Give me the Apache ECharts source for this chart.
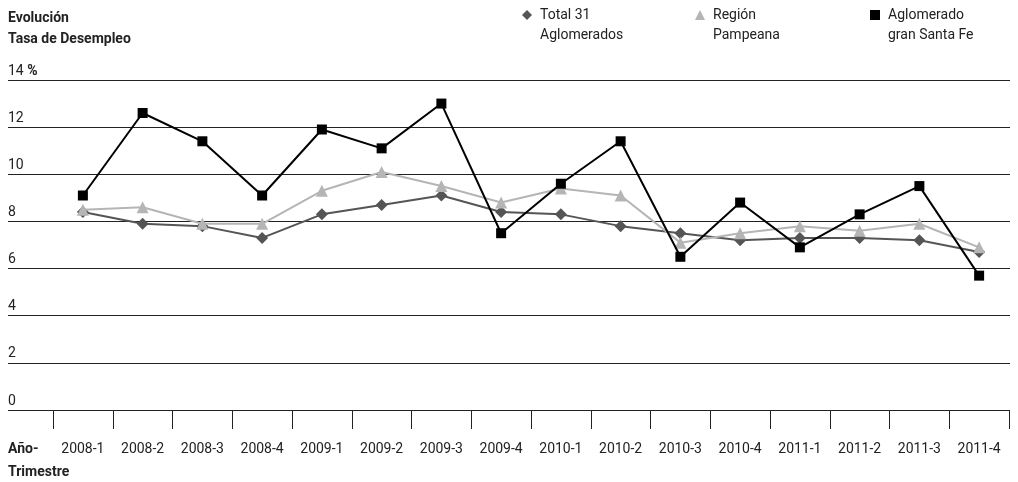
<!DOCTYPE html>
<html>
<head>
<meta charset="utf-8">
<script src="https://cdn.jsdelivr.net/npm/echarts@6/dist/echarts.min.js"></script>
<style>
html,body{margin:0;padding:0;background:#fff;}
#chart{width:1018px;height:482px;}
</style>
</head>
<body>
<div id="chart"></div>
<script>
var categories = ['2008-1','2008-2','2008-3','2008-4','2009-1','2009-2','2009-3','2009-4','2010-1','2010-2','2010-3','2010-4','2011-1','2011-2','2011-3','2011-4'];
var total31 = [8.4,7.9,7.8,7.3,8.3,8.7,9.1,8.4,8.3,7.8,7.5,7.2,7.3,7.3,7.2,6.7];
var pampeana = [8.5,8.6,7.9,7.9,9.3,10.1,9.5,8.8,9.4,9.1,7.1,7.5,7.8,7.6,7.9,6.9];
var santaFe = [9.1,12.6,11.4,9.1,11.9,11.1,13.0,7.5,9.6,11.4,6.5,8.8,6.9,8.3,9.5,5.7];
var seriesNames = ['Total 31 Aglomerados','Región Pampeana','Aglomerado gran Santa Fe'];
var legendLabels = ['Total 31\nAglomerados','Región\nPampeana','Aglomerado\ngran Santa Fe'];
var yTicks = {min:0, max:14, interval:2};

var FONT = 'Roboto';
var TXT = '#222';
var chart = echarts.init(document.getElementById('chart'), null, {renderer:'canvas'});

function legendFor(i, left){
  return {
    data:[seriesNames[i]], left:left, top:-15, padding:0, orient:'horizontal',
    itemWidth:10, itemHeight:10, itemGap:0,
    formatter:function(){ return '\u00a0\n' + legendLabels[i]; },
    textStyle:{fontFamily:FONT, fontSize:14, color:TXT, lineHeight:20, padding:[0,0,0,3]},
    icon: i===0 ? 'diamond' : (i===1 ? 'triangle' : 'rect')
  };
}

chart.setOption({
  animation:false,
  backgroundColor:'#fff',
  title:[
    {text:'Evolución\nTasa de Desempleo', left:3, top:3,
     textStyle:{fontFamily:FONT, fontSize:14, fontWeight:'bold', color:TXT, lineHeight:21}},
    {text:'Año-\nTrimestre', left:3, top:433,
     textStyle:{fontFamily:FONT, fontSize:14, fontWeight:'bold', color:TXT, lineHeight:23}}
  ],
  legend:[legendFor(0,522), legendFor(1,695), legendFor(2,870)],
  grid:[
    {left:8, right:8, top:80, bottom:72},
    {left:53, right:9, top:80, bottom:72}
  ],
  xAxis:[
    {gridIndex:0, type:'value', show:false, min:0, max:1},
    {gridIndex:1, type:'category', data:categories, boundaryGap:true,
     axisLine:{show:false},
     axisTick:{show:true, length:19, lineStyle:{color:TXT, width:1}},
     axisLabel:{fontFamily:FONT, fontSize:14, color:TXT, margin:32, interval:0}}
  ],
  yAxis:[
    {gridIndex:0, type:'value', min:yTicks.min, max:yTicks.max, interval:yTicks.interval,
     axisLine:{show:false}, axisTick:{show:false},
     splitLine:{show:true, lineStyle:{color:'#222', width:1}},
     axisLabel:{inside:true, margin:0, verticalAlign:'bottom', padding:[0,0,2,0],
       fontFamily:FONT, fontSize:14, color:TXT,
       formatter:function(v){ return v===14 ? '14 {b|%}' : String(v); },
       rich:{b:{fontFamily:FONT, fontSize:14, fontWeight:'bold', color:TXT}}}},
    {gridIndex:1, type:'value', min:yTicks.min, max:yTicks.max, interval:yTicks.interval, show:false,
     splitLine:{show:false}}
  ],
  series:[
    {name:seriesNames[0], type:'line', xAxisIndex:1, yAxisIndex:1, data:total31,
     symbol:'diamond', symbolSize:12, color:'#555',
     lineStyle:{color:'#555', width:2}, itemStyle:{color:'#555'}, z:3},
    {name:seriesNames[1], type:'line', xAxisIndex:1, yAxisIndex:1, data:pampeana,
     symbol:'triangle', symbolSize:12, color:'#b5b5b5',
     lineStyle:{color:'#b5b5b5', width:2}, itemStyle:{color:'#b5b5b5'}, z:4},
    {name:seriesNames[2], type:'line', xAxisIndex:1, yAxisIndex:1, data:santaFe,
     symbol:'rect', symbolSize:10, color:'#000',
     lineStyle:{color:'#000', width:2}, itemStyle:{color:'#000'}, z:5}
  ]
});
</script>
</body>
</html>
